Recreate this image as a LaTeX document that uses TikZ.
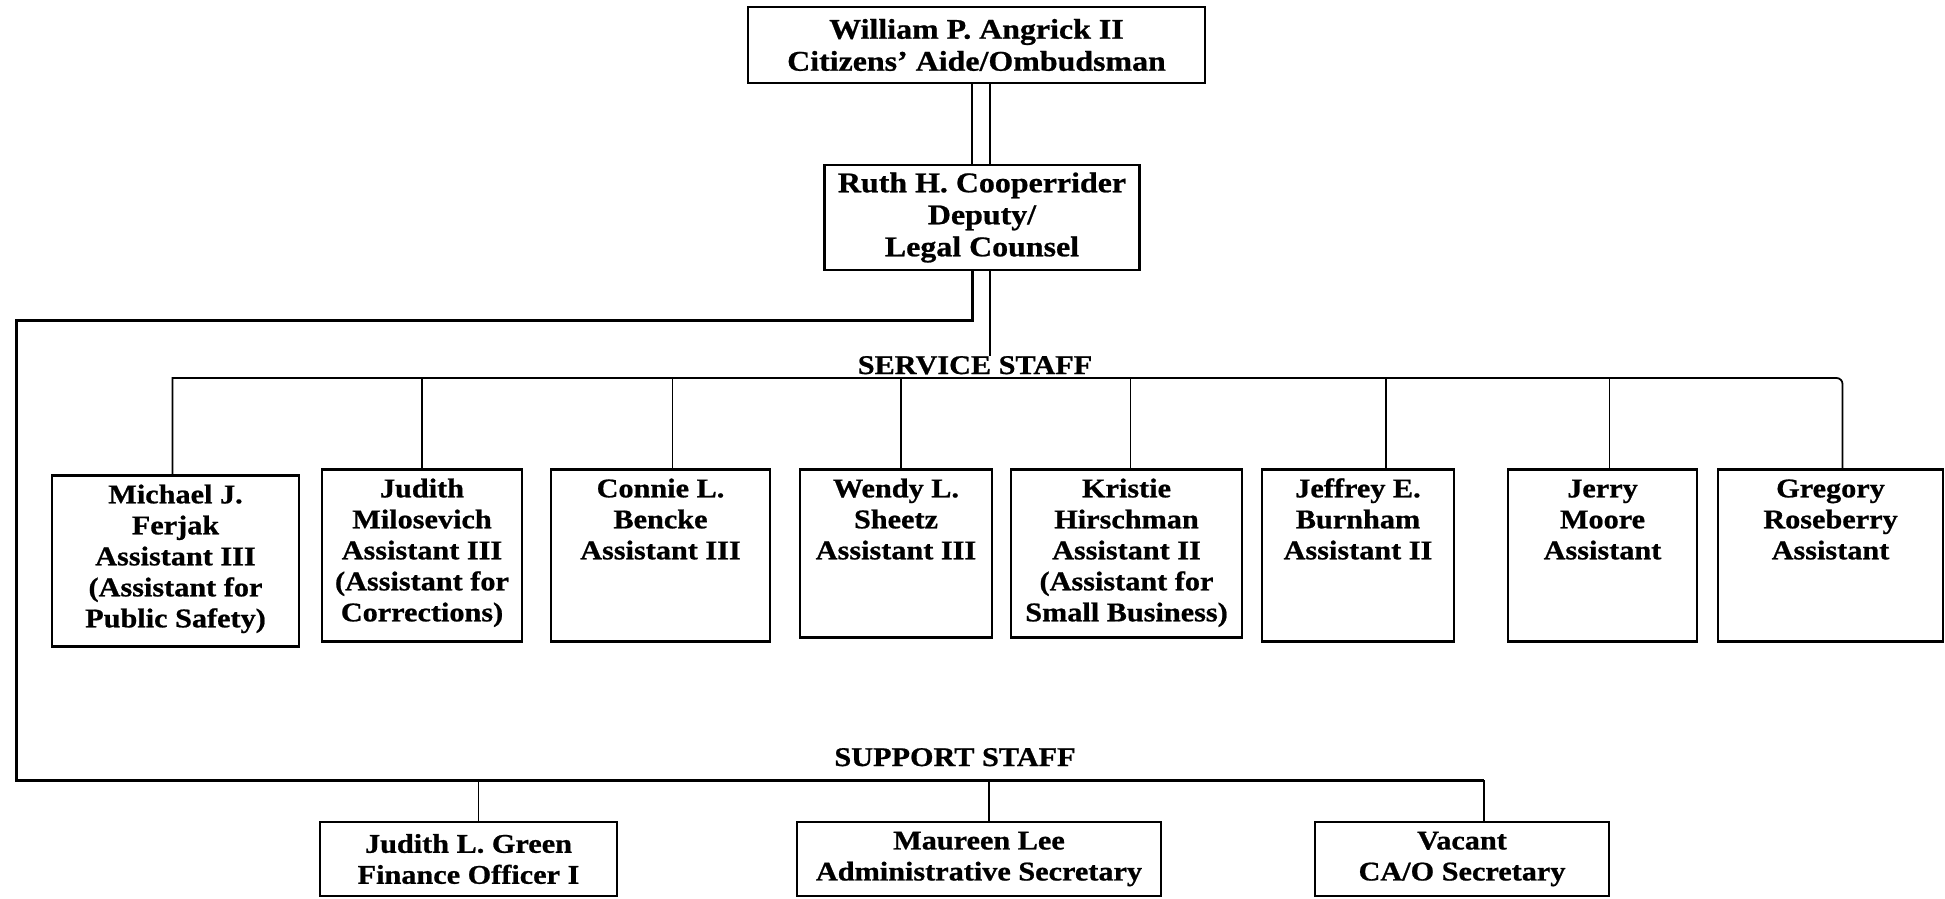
\documentclass[tikz,border=0pt]{standalone}
\usepackage{fontspec}
\setmainfont{Liberation Serif}[FakeStretch=1.12, BoldFeatures={FakeBold=0.8}]
\usetikzlibrary{positioning}
\newcommand{\stack}[1]{\begin{tabular}[t]{@{}c@{}}#1\end{tabular}}

\begin{document}
\begin{tikzpicture}[x=1pt, y=-1pt, font=\fontsize{27}{31}\selectfont\bfseries,
  boss/.style={draw, line width=2.6pt, align=center, inner sep=4pt, font=\fontsize{28.5}{32}\selectfont\bfseries},
  staff/.style={draw, line width=2.6pt, anchor=north, inner sep=4pt, text height=24pt, text depth=140pt},
  aide/.style={draw, line width=2.6pt, align=center, inner sep=3pt, minimum height=74pt},
  head/.style={inner sep=0pt, anchor=base},
  wire/.style={line width=1.8pt},
  bus/.style={line width=3pt}]
  \useasboundingbox (0,0) rectangle (1945,898);
  \node[boss, minimum width=457pt, minimum height=76pt] (ombud) at (976.5,45) {William P. Angrick II\\Citizens' Aide/Ombudsman};
  \node[boss, minimum width=315pt, minimum height=105pt] (deputy) at (982,217.5) {Ruth H. Cooperrider\\Deputy/\\Legal Counsel};
  \node[staff, minimum width=247pt, text depth=139pt] (ferjak) at (175.5,474) {\stack{Michael J.\\Ferjak\\Assistant III\\(Assistant for\\Public Safety)}};
  \node[staff, minimum width=200pt] (milosevich) at (422,468) {\stack{Judith\\Milosevich\\Assistant III\\(Assistant for\\Corrections)}};
  \node[staff, minimum width=219pt] (bencke) at (660.5,468) {\stack{Connie L.\\Bencke\\Assistant III}};
  \node[staff, minimum width=192pt, text depth=136pt] (sheetz) at (896,468) {\stack{Wendy L.\\Sheetz\\Assistant III}};
  \node[staff, minimum width=231pt, text depth=136pt] (hirschman) at (1126.5,468) {\stack{Kristie\\Hirschman\\Assistant II\\(Assistant for\\Small Business)}};
  \node[staff, minimum width=192pt] (burnham) at (1358,468) {\stack{Jeffrey E.\\Burnham\\Assistant II}};
  \node[staff, minimum width=189pt] (moore) at (1602.5,468) {\stack{Jerry\\Moore\\Assistant}};
  \node[staff, minimum width=225pt] (roseberry) at (1830.5,468) {\stack{Gregory\\Roseberry\\Assistant}};
  \node[aide, minimum width=297pt] (green) at (468.5,859) {Judith L. Green\\Finance Officer I};
  \node[aide, minimum width=364pt] (lee) at (979,859) {Maureen Lee\\Administrative Secretary};
  \node[aide, minimum width=294pt] (vacant) at (1462,859) {Vacant\\CA/O Secretary};
  \node[head] (svchead) at (975,374) {SERVICE STAFF};
  \node[head] (suphead) at (955,766) {SUPPORT STAFF};
  \coordinate (svcbus) at (0,378);
  \coordinate (supbus) at (0,780);
  \coordinate (elbow) at (16,320);
  \foreach \dx in {-10,8}
    \draw[wire] ([xshift=\dx pt]deputy.north |- ombud.south) -- ([xshift=\dx pt]deputy.north);
  \draw[wire] ([xshift=8pt]deputy.south) -- ([xshift=8pt]deputy.south |- svchead.north);
  \draw[wire] ([xshift=-3pt]ferjak.north) -- ([xshift=-3pt]ferjak.north |- svcbus) [rounded corners=6pt] -- ([xshift=12pt]roseberry.north |- svcbus) -- ([xshift=12pt]roseberry.north);
  \foreach \n/\dx in {milosevich/0, bencke/12, sheetz/5, hirschman/4, burnham/28, moore/7}
    \draw[wire] ([xshift=\dx pt]\n.north |- svcbus) -- ([xshift=\dx pt]\n.north);
  \draw[bus] ([xshift=-10pt]deputy.south) |- (elbow) |- ([xshift=22pt]vacant.north |- supbus);
  \foreach \n/\dx in {green/10, lee/10, vacant/22}
    \draw[wire] ([xshift=\dx pt]\n.north |- supbus) -- ([xshift=\dx pt]\n.north);
\end{tikzpicture}
\end{document}
